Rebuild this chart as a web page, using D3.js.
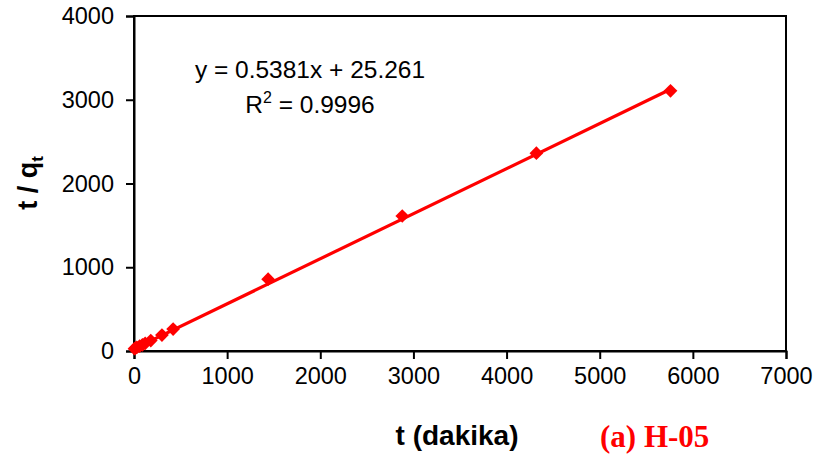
<!DOCTYPE html>
<html>
<head>
<meta charset="utf-8">
<script src="https://cdn.jsdelivr.net/npm/d3@7"></script>
<style>
  html, body { margin: 0; padding: 0; background: #fff; }
  svg { display: block; }
</style>
</head>
<body>
<svg id="chart" width="818" height="461"></svg>
<script>
// Pseudo-second-order kinetics plot: t / q_t against contact time t
const timeMin = [5, 15, 30, 60, 90, 120, 180, 300, 420, 1440, 2880, 4320, 5760];
const tOverQ  = [28, 34, 42, 58, 74, 92, 125, 190, 262, 858, 1612, 2362, 3106];

const xTicks = [0, 1000, 2000, 3000, 4000, 5000, 6000, 7000];
const yTicks = [0, 1000, 2000, 3000, 4000];

// Linear fit reported on the chart
const slope = 0.5381;
const intercept = 25.261;
const fitRange = [0, 5760];

const svg = d3.select("#chart");
const plotLeft = 134, plotRight = 786, plotTop = 16, plotBottom = 351;

const x = d3.scaleLinear().domain([0, 7000]).range([plotLeft, plotRight]);
const y = d3.scaleLinear().domain([0, 4000]).range([plotBottom, plotTop]);

const red = "#ff0000";
const sans = "'Liberation Sans', Arial, sans-serif";

// Plot frame
svg.append("rect")
  .attr("x", plotLeft).attr("y", plotTop)
  .attr("width", plotRight - plotLeft).attr("height", plotBottom - plotTop)
  .attr("fill", "none").attr("stroke", "#000").attr("stroke-width", 2);

// Axes
const xAxis = svg.append("g")
  .attr("transform", `translate(0,${plotBottom})`)
  .call(d3.axisBottom(x).tickValues(xTicks).tickSize(8).tickPadding(8).tickFormat(d3.format("d")));
const yAxis = svg.append("g")
  .attr("transform", `translate(${plotLeft},0)`)
  .call(d3.axisLeft(y).tickValues(yTicks).tickSize(8).tickPadding(12).tickFormat(d3.format("d")));

[xAxis, yAxis].forEach(g => {
  g.select(".domain").attr("stroke", "#000").attr("stroke-width", 2);
  g.selectAll(".tick line").attr("stroke", "#000").attr("stroke-width", 2);
  g.selectAll(".tick text")
    .attr("fill", "#000")
    .style("font-family", sans)
    .style("font-size", "23.5px");
});
xAxis.selectAll(".tick text").attr("dy", "0.71em");

// Fitted line
svg.append("line")
  .attr("x1", x(fitRange[0])).attr("y1", y(slope * fitRange[0] + intercept))
  .attr("x2", x(fitRange[1])).attr("y2", y(slope * fitRange[1] + intercept))
  .attr("stroke", red).attr("stroke-width", 3.2);

// Data markers (diamonds)
const diamond = d3.symbol().type(d3.symbolDiamond2).size(120);
svg.append("g").selectAll("path")
  .data(timeMin.map((t, i) => [t, tOverQ[i]]))
  .join("path")
  .attr("d", diamond)
  .attr("transform", d => `translate(${x(d[0])},${y(d[1])})`)
  .attr("fill", red);

// Regression annotation
svg.append("text")
  .attr("x", 310).attr("y", 78)
  .attr("text-anchor", "middle")
  .style("font-family", sans).style("font-size", "24.5px")
  .text("y = 0.5381x + 25.261");
const r2 = svg.append("text")
  .attr("x", 310).attr("y", 113)
  .attr("text-anchor", "middle")
  .style("font-family", sans).style("font-size", "24.5px");
r2.append("tspan").text("R");
r2.append("tspan").attr("dy", -10).style("font-size", "16px").text("2");
r2.append("tspan").attr("dy", 10).text(" = 0.9996");

// Axis titles
svg.append("text")
  .attr("x", 457).attr("y", 445)
  .attr("text-anchor", "middle")
  .style("font-family", sans).style("font-size", "28px").style("font-weight", "bold")
  .text("t (dakika)");

const yTitle = svg.append("text")
  .attr("transform", "translate(37,183) rotate(-90)")
  .attr("text-anchor", "middle")
  .style("font-family", sans).style("font-size", "27px").style("font-weight", "bold");
yTitle.append("tspan").text("t / q");
yTitle.append("tspan").attr("dy", 6).style("font-size", "17px").text("t");

// Panel label
svg.append("text")
  .attr("x", 600).attr("y", 447)
  .style("font-family", "'Liberation Serif', 'Times New Roman', serif")
  .style("font-size", "31px").style("font-weight", "bold")
  .attr("fill", red)
  .text("(a) H-05");
</script>
</body>
</html>
